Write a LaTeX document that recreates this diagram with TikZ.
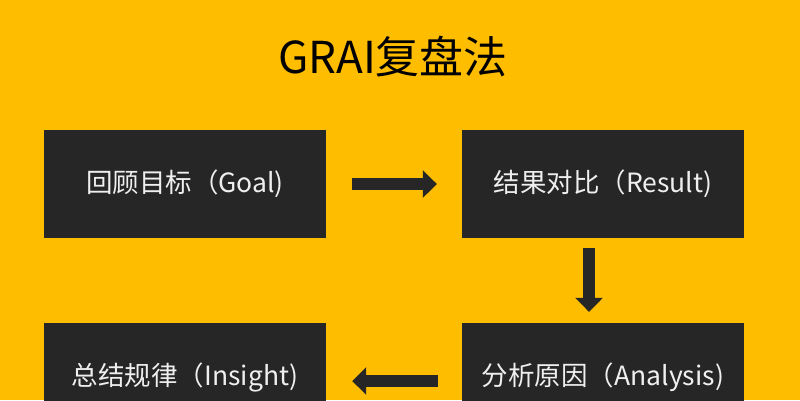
\documentclass[tikz,border=0pt]{standalone}
\usepackage{fontspec}
\newfontfamily\cjk{Noto Sans CJK SC}
\usetikzlibrary{arrows.meta}
\definecolor{bgyellow}{HTML}{FFBD00}
\definecolor{boxgray}{HTML}{262626}
\definecolor{boxtext}{HTML}{EFEFEF}
\tikzset{
    stage/.style={fill=boxgray, text=boxtext, minimum width=282pt, minimum height=108pt,
        inner sep=0pt, font=\cjk\fontsize{26.5}{30}\selectfont},
    flow/.style={boxgray, line width=12pt, -{Triangle[length=14pt,width=27pt]}}
}
\begin{document}
\begin{tikzpicture}[x=1pt, y=-1pt]
\useasboundingbox (0,0) rectangle (800,400);
\clip (0,0) rectangle (800,400);
\fill[bgyellow] (0,0) rectangle (800,400);
% title
\node (title) at (393,57) {\cjk\fontsize{44}{50}\selectfont GRAI复盘法};
% four stages
\node[stage] (goal)     at (185,184) {回顾目标（Goal)};
\node[stage] (result)   at (603,184) {结果对比（Result)};
\node[stage] (analysis) at (603,377) {分析原因（Analysis)};
\node[stage] (insight)  at (185,377) {总结规律（Insight)};
% arrows
\draw[flow, shorten <=26pt, shorten >=25pt] (goal.east) -- (result.west);
\draw[flow, shorten <=10pt, shorten >=11pt] ([xshift=-14pt]result.south) -- ([xshift=-14pt]analysis.north);
\draw[flow, shorten <=24pt, shorten >=26pt] ([yshift=-4pt]analysis.west) -- ([yshift=-4pt]insight.east);
\end{tikzpicture}
\end{document}
